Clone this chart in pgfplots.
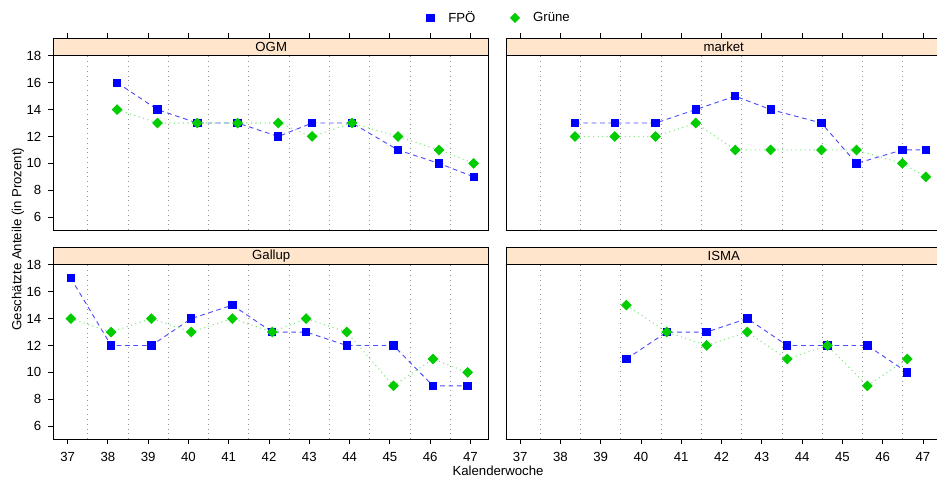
\documentclass[border=0pt]{standalone}
\usepackage{pgfplots}
\usepackage{pgfplotstable}
\pgfplotsset{compat=1.18}
\usepackage{fontspec}
\setmainfont{Liberation Sans}
\definecolor{fpoc}{HTML}{0000FF}
\definecolor{grc}{HTML}{00CC00}
\definecolor{fpoline}{HTML}{4D4DFF}
\definecolor{grline}{HTML}{80E680}
\definecolor{stripc}{HTML}{FFE5CC}

\pgfplotstableread{
x fpo gr
38.23 16 14
39.23 14 13
40.22 13 13
41.22 13 13
42.23 12 13
43.07 13 12
44.06 13 13
45.20 11 12
46.22 10 11
47.08 9 10
}\ogm
\pgfplotstableread{
x fpo gr
38.36 13 12
39.35 13 12
40.36 13 12
41.36 14 13
42.34 15 11
43.22 14 11
44.48 13 11
45.35 10 11
46.49 11 10
47.07 11 9
}\market
\pgfplotstableread{
x fpo gr
37.08 17 14
38.08 12 13
39.08 12 14
40.07 14 13
41.09 15 14
42.08 13 13
42.92 13 14
43.93 12 13
45.09 12 9
46.07 9 11
46.93 9 10
}\gallup
\pgfplotstableread{
x fpo gr
39.64 11 15
40.64 13 13
41.63 13 12
42.64 14 13
43.63 12 11
44.63 12 12
45.62 12 9
46.61 10 11
}\isma

\pgfplotsset{
  panel/.style={
    scale only axis, width=326.6pt, height=143.8pt,
    xmin=36.65, xmax=47.46, ymin=5.05, ymax=19.3,
    xtick={37,...,47}, ytick={6,8,...,18},
    minor xtick={37.5,38.5,...,46.5},
    xminorgrids=true, minor tick length=0pt,
    minor grid style={gray!85, line width=0.6pt, dash pattern=on 0.6pt off 3pt},
    tick align=outside, major tick length=3.9pt,
    major tick style={black, line width=0.6pt},
    axis line style={line width=0.75pt},
    clip=false,
    font=\fontsize{9.9}{11}\selectfont,
    /pgf/number format/assume math mode=true,
    yticklabel style={xshift=-1.8pt},
    xticklabel style={yshift=-2.5pt},
  },
  top/.style={xtick pos=right, xticklabels={,,,,,,,,,,,}},
  bottom/.style={xtick pos=left},
  leftp/.style={ytick pos=left},
  rightp/.style={ytick=\empty},
  fposer/.style={color=fpoline, line width=0.7pt, dash pattern=on 3.5pt off 2.8pt,
    mark=square*, mark size=2.75pt, mark options={solid, fill=fpoc, draw=fpoc}},
  grser/.style={color=grline, line width=0.8pt, dash pattern=on 0.8pt off 2.6pt,
    mark=square*, mark size=2.45pt, mark options={solid, rotate=45, fill=grc, draw=grc}},
}

\newcommand{\strip}[1]{%
  \draw[fill=stripc, line width=0.75pt] (axis cs:36.65,18) rectangle (axis cs:47.46,19.3);
  \node[font=\fontsize{9.9}{11}\selectfont] at (axis cs:42.055,18.65) {#1};
}

\begin{document}
\begin{tikzpicture}
\begin{axis}[panel, top, leftp, at={(40.125pt,186.75pt)}, anchor=south west,
  legend image code/.code={\path (0cm,0cm) (0.7cm,0cm); \draw[#1] plot coordinates {(0.3cm,0cm)};},
  legend style={at={(1.015,1.106)}, anchor=center, draw=none, fill=none,
    legend columns=2, font=\fontsize{9.9}{11}\selectfont,
    /tikz/every even column/.append style={column sep=19pt}}]
  \addlegendimage{only marks, mark=square*, mark size=2.75pt, color=fpoc}
  \addlegendentry{FPÖ}
  \addlegendimage{only marks, mark=square*, mark size=2.45pt, mark options={rotate=45}, color=grc}
  \addlegendentry{Grüne}
  \addplot[fposer, forget plot] table[x=x, y=fpo] {\ogm};
  \addplot[grser, forget plot] table[x=x, y=gr] {\ogm};
  \strip{OGM}
\end{axis}
\begin{axis}[panel, top, rightp, at={(379.5pt,186.75pt)}, anchor=south west]
  \addplot[fposer] table[x=x, y=fpo] {\market};
  \addplot[grser] table[x=x, y=gr] {\market};
  \strip{market}
\end{axis}
\begin{axis}[panel, bottom, leftp, at={(40.125pt,30pt)}, anchor=south west]
  \addplot[fposer] table[x=x, y=fpo] {\gallup};
  \addplot[grser] table[x=x, y=gr] {\gallup};
  \strip{Gallup}
\end{axis}
\begin{axis}[panel, bottom, rightp, at={(379.5pt,30pt)}, anchor=south west]
  \addplot[fposer] table[x=x, y=fpo] {\isma};
  \addplot[grser] table[x=x, y=gr] {\isma};
  \strip{ISMA}
\end{axis}
\node[rotate=90, font=\fontsize{9.9}{11}\selectfont] at (13.5pt,180pt) {Geschätzte Anteile (in Prozent)};
\node[font=\fontsize{9.9}{11}\selectfont] at (373.5pt,6pt) {Kalenderwoche};
\pgfresetboundingbox
\path[use as bounding box] (0,0) rectangle (702.75pt,359.25pt);
\end{tikzpicture}
\end{document}
